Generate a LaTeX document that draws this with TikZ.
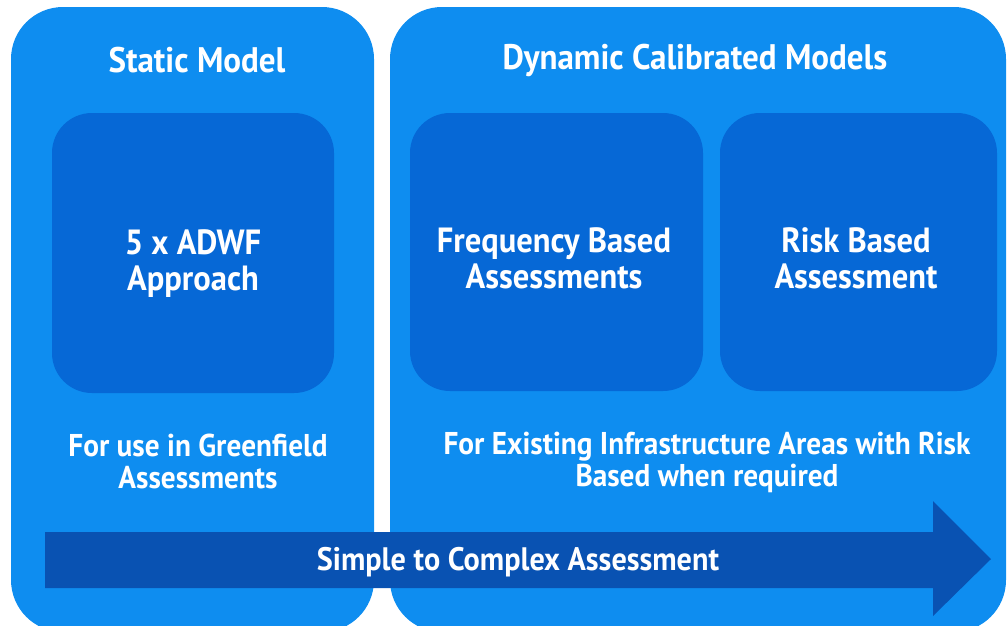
\documentclass[tikz,border=0pt]{standalone}
\usepackage{fontspec}
\setmainfont{PT Sans}
\newfontfamily\narrowsans[FakeStretch=0.93]{PT Sans}
\begin{document}
\definecolor{panelblue}{RGB}{14,141,240}
\definecolor{boxblue}{RGB}{6,104,214}
\definecolor{arrowblue}{RGB}{9,82,178}
\begin{tikzpicture}[x=1pt,y=-1pt,
  panel/.style={fill=panelblue,draw=none,rounded corners=52pt},
  innerbox/.style={fill=boxblue,draw=none,rounded corners=40pt},
  lbl/.style={text=white,align=center,inner sep=0pt},
  title/.style={lbl,font=\narrowsans\bfseries\fontsize{35.5}{38}\selectfont},
  boxtext/.style={lbl,font=\narrowsans\bfseries\fontsize{35}{36}\selectfont},
  desctext/.style={lbl,font=\narrowsans\bfseries\fontsize{31.5}{32}\selectfont},
  arrowtext/.style={lbl,font=\narrowsans\bfseries\fontsize{32.5}{34}\selectfont}]
\useasboundingbox (0,0) rectangle (1007,625);
\clip (0,0) rectangle (1007,625);
% outer panels
\path[panel] (11,7) rectangle (374,632);
\path[panel] (390,7) rectangle (1006,632);
% inner boxes
\path[innerbox] (52,113) rectangle (334,393);
\path[innerbox] (410,113) rectangle (703,391);
\path[innerbox] (720,113) rectangle (997,391);
% progression arrow
\fill[arrowblue] (45,532) -- (933,532) -- (933,501) -- (991,559) -- (933,616) -- (933,588) -- (45,588) -- cycle;
% texts
\node[title] (t1) at (197,60) {Static Model};
\node[title] (t2) at (695,60) {Dynamic Calibrated Models};
\node[boxtext] (b1) at (193,264) {5 x ADWF\\Approach};
\node[boxtext] (b2) at (554,258) {Frequency Based\\Assessments};
\node[boxtext] (b3) at (856,258) {Risk Based\\Assessment};
\node[desctext] (d1) at (198,461) {For use in Greenfield\\Assessments};
\node[desctext] (d2) at (707,462) {For Existing Infrastructure Areas with Risk\\Based when required};
\node[arrowtext] (a1) at (518,562) {Simple to Complex Assessment};
\end{tikzpicture}
\end{document}
